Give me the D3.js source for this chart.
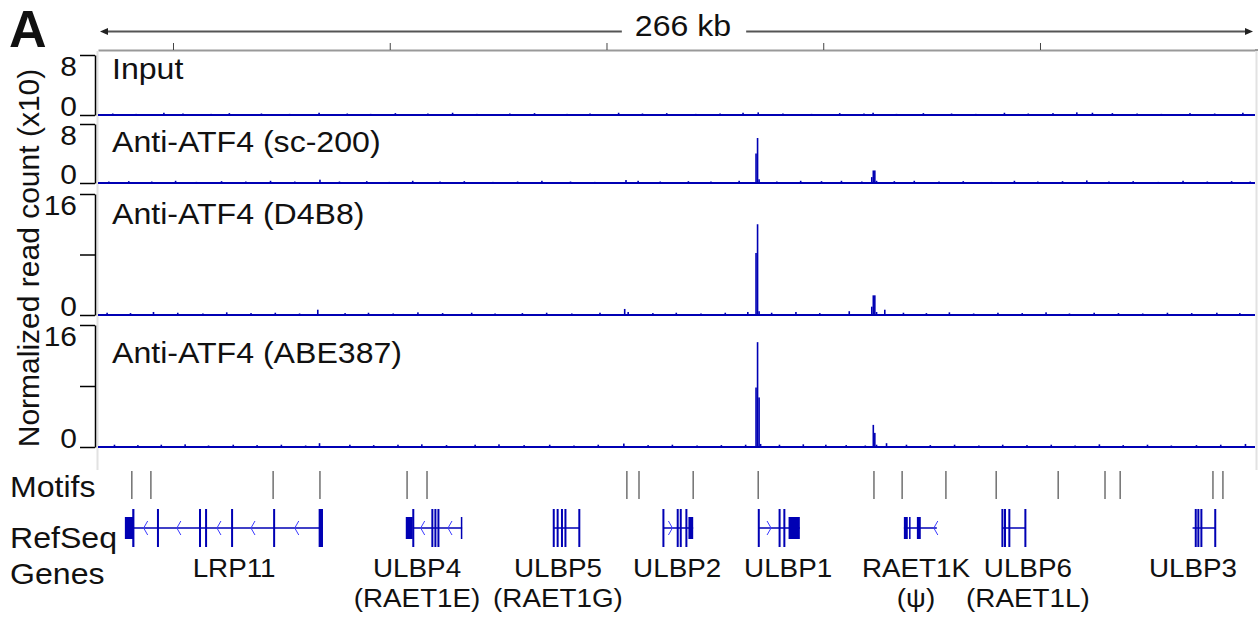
<!DOCTYPE html>
<html>
<head>
<meta charset="utf-8">
<script src="https://cdn.jsdelivr.net/npm/d3@7"></script>
<style>
  body { margin: 0; background: #fff; }
  text { font-family: "Liberation Sans", Arial, sans-serif; fill: #111; }
</style>
</head>
<body>
<script>
// region shown, in kb
const regionKb = [32.7, 299.6];
const rulerTicksKb = [50, 100, 150, 200, 250];
const scaleLabel = "266 kb";

const trackNames = ["Input", "Anti-ATF4 (sc-200)", "Anti-ATF4 (D4B8)", "Anti-ATF4 (ABE387)"];
const trackMax = [8, 8, 16, 16];

// signal bins [kb, normalized read count /10]
const inputSignal = [[36.1,0.2],[41.5,0.15],[47.9,0.3],[52.3,0.2],[58.8,0.15],[63.0,0.25],[70.4,0.2],[76.9,0.15],
  [83.7,0.3],[90.2,0.2],[95.6,0.15],[101.3,0.25],[108.8,0.2],[114.5,0.3],[120.1,0.15],[127.7,0.2],[133.4,0.25],
  [140.9,0.15],[146.2,0.2],[152.8,0.3],[158.3,0.2],[163.9,0.25],[170.6,0.15],[176.2,0.2],[181.5,0.3],[185.0,0.35],
  [190.7,0.2],[197.3,0.15],[203.8,0.25],[209.4,0.2],[211.5,0.3],[216.9,0.15],[223.1,0.25],[229.6,0.2],[235.2,0.15],
  [241.8,0.3],[247.3,0.2],[253.0,0.25],[258.5,0.35],[262.1,0.3],[266.7,0.25],[272.4,0.2],[278.0,0.15],[284.6,0.25],
  [290.3,0.2],[296.8,0.3]];
const sc200Signal = [[35.2,0.2],[39.8,0.25],[45.1,0.2],[50.6,0.3],[55.4,0.15],[61.2,0.25],[66.8,0.2],[72.5,0.3],
  [78.1,0.2],[83.9,0.45],[88.4,0.2],[94.7,0.25],[99.9,0.15],[105.3,0.3],[111.6,0.2],[117.2,0.25],[123.8,0.15],
  [129.5,0.2],[135.1,0.3],[141.7,0.2],[147.3,0.15],[154.5,0.4],[157.3,0.3],[162.4,0.2],[168.9,0.25],[174.1,0.2],
  [180.6,0.3],[184.5,4.0],[184.85,6.1],[185.2,0.5],[189.3,0.2],[194.8,0.3],[199.6,0.25],[204.2,0.3],[208.9,0.2],
  [211.2,0.8],[211.55,1.7],[211.9,1.7],[212.3,0.3],[216.4,0.25],[221.0,0.3],[226.7,0.2],[232.3,0.25],[238.8,0.15],
  [244.1,0.3],[249.5,0.2],[255.2,0.25],[260.8,0.35],[265.9,0.2],[271.5,0.25],[277.3,0.15],[283.0,0.3],[288.6,0.2],
  [294.2,0.25],[298.5,0.2]];
const d4b8Signal = [[34.8,0.3],[40.2,0.25],[45.5,0.4],[51.1,0.3],[56.9,0.2],[62.4,0.35],[68.0,0.25],[73.6,0.3],
  [79.2,0.2],[83.4,0.7],[89.7,0.25],[95.1,0.3],[100.8,0.2],[106.5,0.35],[112.2,0.25],[118.9,0.3],[124.3,0.2],
  [130.6,0.25],[136.2,0.3],[142.0,0.2],[148.5,0.3],[154.2,0.8],[155.0,0.4],[160.7,0.25],[166.1,0.3],[171.8,0.2],
  [177.4,0.3],[182.6,0.4],[184.5,8.2],[184.85,12.0],[185.2,0.5],[188.1,0.3],[193.7,0.4],[199.2,0.25],[206.0,0.5],
  [211.2,1.1],[211.55,2.6],[211.9,2.6],[212.3,0.4],[214.2,0.7],[218.5,0.3],[223.8,0.25],[229.1,0.35],[234.7,0.2],
  [240.3,0.3],[245.9,0.25],[251.4,0.35],[256.8,0.2],[262.5,0.3],[268.1,0.25],[273.7,0.2],[279.4,0.3],[285.0,0.25],
  [290.8,0.3],[296.1,0.25]];
const abe387Signal = [[36.5,0.3],[41.9,0.25],[47.3,0.3],[52.8,0.35],[58.2,0.2],[63.9,0.3],[69.4,0.25],[75.0,0.3],
  [80.6,0.2],[83.8,0.5],[90.8,0.3],[96.3,0.25],[101.9,0.3],[107.4,0.35],[113.1,0.25],[119.7,0.3],[125.2,0.35],
  [131.0,0.25],[136.9,0.3],[142.5,0.2],[148.1,0.3],[154.0,0.45],[159.6,0.25],[165.2,0.3],[170.9,0.2],[176.5,0.25],
  [182.1,0.3],[184.5,7.8],[184.85,13.75],[185.2,6.5],[185.55,0.4],[189.9,0.3],[195.4,0.35],[200.6,0.3],[205.3,0.25],
  [209.7,0.2],[211.55,2.9],[211.9,1.85],[212.3,0.3],[214.6,0.5],[219.2,0.3],[224.7,0.25],[230.3,0.3],[235.9,0.2],
  [241.4,0.3],[247.0,0.25],[252.6,0.3],[258.1,0.2],[263.7,0.35],[269.2,0.25],[274.8,0.3],[280.3,0.2],[286.1,0.25],
  [291.7,0.3],[297.4,0.4]];
const trackSignals = [inputSignal, sc200Signal, d4b8Signal, abe387Signal];

// ATF4 motif sites, kb
const motifKb = [40.5, 44.9, 73.1, 83.9, 104.0, 108.6, 154.7, 157.5, 170.0, 185.0, 211.7,
  218.2, 228.3, 239.9, 254.2, 265.0, 268.5, 289.9, 292.2];

// RefSeq genes
const geneLabel1 = ["LRP11", "ULBP4", "ULBP5", "ULBP2", "ULBP1", "RAET1K", "ULBP6", "ULBP3"];
const geneLabel2 = ["", "(RAET1E)", "(RAET1G)", "", "", "(\u03c8)", "(RAET1L)", ""];
const geneLabelKb = [64.1, 106.3, 138.8, 166.3, 191.9, 221.4, 247.2, 285.3];
const geneStrand = ["-", "-", "", "+", "+", "-", "", ""];
const geneSpan = [[40.8, 84.6], [105.3, 116.7], [137.8, 143.8], [163.1, 170.0],
  [185.1, 194.6], [218.6, 226.2], [241.3, 246.6], [285.2, 290.4]];
const geneExons = [
  [[40.6,41.1],[46.3,46.7],[56.0,56.4],[57.4,57.8],[63.4,63.8],[73.1,73.5],[83.6,84.6]],
  [[105.2,105.6],[109.6,110.0],[110.3,110.7],[111.0,111.4]],
  [[137.6,138.0],[138.5,138.9],[139.5,139.9],[140.3,140.7],[143.5,143.9]],
  [[162.9,163.3],[166.2,166.6],[166.9,167.3],[168.2,168.6]],
  [[184.9,185.3],[189.7,190.1],[190.8,191.2]],
  [],
  [[241.1,241.5],[241.7,242.1],[242.7,243.1],[246.4,246.8]],
  [[285.7,286.1],[286.3,286.7],[287.0,287.4],[290.2,290.6]]
];
const geneUtrs = [
  [[38.9,40.8]],
  [[103.7,105.3],[116.4,116.7]],
  [],
  [[168.9,170.0]],
  [[192.0,194.6]],
  [[218.6,219.5],[219.8,220.1],[221.6,222.5]],
  [],
  []
];

const W = 1258, H = 621;
const blue = "#0000b4";
const stretch = 1.07; // text in the figure is slightly wide

const svg = d3.select("body").append("svg")
  .attr("width", W)
  .attr("height", H);

const x = d3.scaleLinear().domain(regionKb).range([98, 1255]);

// horizontal text, a little widened like the original
function label(px, py, str, size, anchor) {
  return svg.append("text")
    .attr("transform", `translate(${px},${py}) scale(${stretch},1)`)
    .attr("text-anchor", anchor || "start")
    .style("font-size", size + "px")
    .text(str);
}

// panel letter
svg.append("text").attr("x", 9).attr("y", 47)
  .style("font-size", "52px").style("font-weight", "bold").text("A");

// scale bar with arrows
const scaleY = 31.5;
const scaleText = label(683, 36, scaleLabel, 30, "middle");
const bb = scaleText.node().getBoundingClientRect();
const arrowL = 100, arrowR = 1253;
svg.append("line").attr("x1", arrowL + 6).attr("x2", bb.left - 13)
  .attr("y1", scaleY).attr("y2", scaleY).attr("stroke", "#555").attr("stroke-width", 2);
svg.append("line").attr("x1", bb.right + 15).attr("x2", arrowR - 6)
  .attr("y1", scaleY).attr("y2", scaleY).attr("stroke", "#555").attr("stroke-width", 2);
svg.append("path").attr("d", `M${arrowL},${scaleY} l8,-3.5 v7 z`).attr("fill", "#222");
svg.append("path").attr("d", `M${arrowR},${scaleY} l-8,-3.5 v7 z`).attr("fill", "#222");

// ruler
const ruler = svg.append("g").attr("transform", "translate(0,50)")
  .call(d3.axisTop(x).tickValues(rulerTicksKb).tickSize(7).tickSizeOuter(0).tickFormat(""));
ruler.select(".domain").attr("stroke", "#999").attr("stroke-width", 2);
ruler.selectAll(".tick line").attr("stroke", "#444");
svg.append("line").attr("x1", 1255).attr("x2", 1258).attr("y1", 50).attr("y2", 50)
  .attr("stroke", "#999").attr("stroke-width", 2);

// faint frame lines
svg.append("line").attr("x1", 97.5).attr("x2", 97.5).attr("y1", 51).attr("y2", 470)
  .attr("stroke", "#e2e2e2").attr("stroke-width", 2);
svg.append("line").attr("x1", 1256.5).attr("x2", 1256.5).attr("y1", 51).attr("y2", 470)
  .attr("stroke", "#e2e2e2").attr("stroke-width", 2);

// y title
svg.append("text").attr("transform", "translate(39,258) rotate(-90)")
  .attr("text-anchor", "middle").style("font-size", "30px")
  .text("Normalized read count (x10)");

// signal tracks
const trackLayout = [
  { top: 55, zero: 115, label: 24 },
  { top: 124, zero: 183, label: 28 },
  { top: 194, zero: 315, label: 30 },
  { top: 325, zero: 447, label: 38 }
];

trackNames.forEach((name, i) => {
  const lay = trackLayout[i];
  const y = d3.scaleLinear().domain([0, trackMax[i]]).range([lay.zero, lay.top]);
  const ticks = trackMax[i] > 8 ? [0, trackMax[i] / 2, trackMax[i]] : [0, trackMax[i]];

  const ax = svg.append("g").attr("transform", "translate(95,0)")
    .call(d3.axisLeft(y).tickValues(ticks).tickSize(15).tickSizeOuter(0)
      .tickFormat(d => (d === 0 || d === trackMax[i]) ? d : ""));
  ax.select(".domain").attr("stroke", "#000").attr("stroke-width", 1.5);
  ax.selectAll(".tick line").attr("stroke", "#000").attr("stroke-width", 1.5);
  ax.selectAll(".tick text")
    .style("font-size", "28px").style("font-family", '"Liberation Sans", Arial, sans-serif')
    .attr("fill", "#111").attr("x", 0)
    .attr("transform", `translate(-18,0) scale(${stretch},1)`)
    .attr("dy", d => d === 0 ? "0.02em" : "0.74em");

  label(112, lay.top + lay.label, name, 30);

  const g = svg.append("g");
  g.append("line").attr("x1", x(regionKb[0])).attr("x2", x(regionKb[1]))
    .attr("y1", y(0)).attr("y2", y(0)).attr("stroke", blue).attr("stroke-width", 2);
  g.selectAll("rect").data(trackSignals[i]).enter().append("rect")
    .attr("x", d => x(d[0]) - 0.8)
    .attr("width", 1.6)
    .attr("y", d => y(d[1]))
    .attr("height", d => y(0) - y(d[1]) + 1)
    .attr("fill", blue);
});

// motifs
label(10, 497, "Motifs", 30);
svg.append("g").selectAll("line").data(motifKb).enter().append("line")
  .attr("x1", d => x(d)).attr("x2", d => x(d))
  .attr("y1", 471).attr("y2", 499)
  .attr("stroke", "#707070").attr("stroke-width", 1.5);

// genes
label(10, 548, "RefSeq", 30);
label(10, 584, "Genes", 30);

const gy = 528;
geneLabel1.forEach((lab, i) => {
  const g = svg.append("g");
  const span = geneSpan[i];
  g.append("line").attr("x1", x(span[0])).attr("x2", x(span[1]))
    .attr("y1", gy).attr("y2", gy).attr("stroke", blue).attr("stroke-width", 1.5);

  // chevrons in introns
  if (geneStrand[i]) {
    const blocks = geneExons[i].concat(geneUtrs[i]).map(b => [x(b[0]), x(b[1])])
      .sort((a, b) => a[0] - b[0]);
    const dir = geneStrand[i] === "-" ? 1 : -1;
    for (let k = 0; k < blocks.length - 1; k++) {
      const a = blocks[k][1], b = blocks[k + 1][0];
      const gap = b - a;
      if (gap < 10) continue;
      const n = Math.max(1, Math.floor(gap / 24));
      for (let j = 0; j < n; j++) {
        const cx = a + gap * (j + 0.5) / n;
        g.append("path")
          .attr("d", `M${cx + 2 * dir},${gy - 7} L${cx - 2 * dir},${gy} L${cx + 2 * dir},${gy + 7}`)
          .attr("fill", "none").attr("stroke", "#3a3aff").attr("stroke-width", 1);
      }
    }
    const end = x(span[1]);
    if (geneStrand[i] === "-" && !blocks.some(bk => Math.abs(bk[1] - end) < 2)) {
      g.append("path")
        .attr("d", `M${end + 1},${gy - 7} L${end - 3},${gy} L${end + 1},${gy + 7}`)
        .attr("fill", "none").attr("stroke", "#3a3aff").attr("stroke-width", 1);
    }
  }

  g.selectAll(".utr").data(geneUtrs[i]).enter().append("rect")
    .attr("x", d => x(d[0])).attr("width", d => Math.max(1.5, x(d[1]) - x(d[0])))
    .attr("y", 517).attr("height", 22).attr("fill", blue);
  g.selectAll(".exon").data(geneExons[i]).enter().append("rect")
    .attr("x", d => x(d[0])).attr("width", d => Math.max(2, x(d[1]) - x(d[0])))
    .attr("y", 509).attr("height", 38).attr("fill", blue);

  label(x(geneLabelKb[i]), 577, lab, 26, "middle");
  if (geneLabel2[i]) label(x(geneLabelKb[i]), 607, geneLabel2[i], 26, "middle");
});
</script>
</body>
</html>
